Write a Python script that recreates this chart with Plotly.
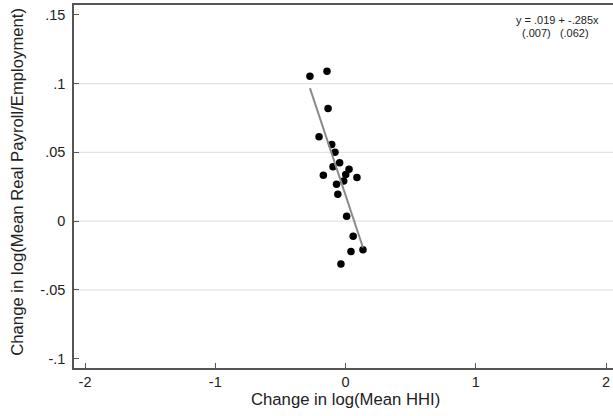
import plotly.graph_objects as go

# Data
x_vals = [-0.273, -0.142, -0.134, -0.203, -0.106, -0.081, -0.045, -0.096, 0.027, 0.002,
          -0.170, 0.088, -0.014, -0.069, -0.059, 0.009, 0.059, 0.042, 0.134, -0.035]
y_vals = [0.1054, 0.1090, 0.0819, 0.0613, 0.0557, 0.0501, 0.0424, 0.0395, 0.0378, 0.0339,
          0.0334, 0.0318, 0.0291, 0.0269, 0.0196, 0.0036, -0.0110, -0.0222, -0.0209, -0.0313]

intercept = 0.019
slope = -0.285
eq_line1 = "y = .019 + -.285x"
eq_line2 = "(.007)   (.062)"

x_ticks = [-2, -1, 0, 1, 2]
x_tick_text = ["-2", "-1", "0", "1", "2"]
y_ticks = [-0.1, -0.05, 0, 0.05, 0.1, 0.15]
y_tick_text = ["-.1", "-.05", "0", ".05", ".1", ".15"]
y_grid = [-0.05, 0, 0.05, 0.1]

x_title = "Change in log(Mean HHI)"
y_title = "Change in log(Mean Real Payroll/Employment)"

FONT = "Liberation Sans, Arial, Helvetica, sans-serif"

fit_x = [min(x_vals), max(x_vals)]
fit_y = [intercept + slope * v for v in fit_x]

fig = go.Figure()
fig.add_trace(go.Scatter(
    x=x_vals, y=y_vals, mode="markers",
    marker=dict(color="black", size=7.5),
    showlegend=False, hoverinfo="skip"))
fig.add_trace(go.Scatter(
    x=fit_x, y=fit_y, mode="lines",
    line=dict(color="#8a8a8a", width=2),
    showlegend=False, hoverinfo="skip"))

shapes = []
for g in y_grid:
    shapes.append(dict(type="line", xref="paper", yref="y", x0=0, x1=1, y0=g, y1=g,
                       line=dict(color="#e3e3e3", width=1.2), layer="below"))

W, H = 613, 416
ml, mr, mt, mb = 74, 0, 5, 47.5

def px_to_paper_x(px):
    return (px - ml) / (W - ml - mr)

def px_to_paper_y(py):
    return (H - mb - py) / (H - mt - mb)

annotations = [
    dict(text=x_title, xref="x", yref="paper", x=0, y=px_to_paper_y(400),
         showarrow=False, xanchor="center", yanchor="middle",
         font=dict(family=FONT, size=16.7, color="#222")),
    dict(text=y_title, xref="paper", yref="paper", x=px_to_paper_x(18), y=px_to_paper_y(182),
         showarrow=False, xanchor="center", yanchor="middle", textangle=-90,
         font=dict(family=FONT, size=16.7, color="#222")),
    dict(text=eq_line1, xref="paper", yref="paper", x=px_to_paper_x(601), y=px_to_paper_y(20),
         showarrow=False, xanchor="right", yanchor="middle",
         font=dict(family=FONT, size=11, color="#222")),
    dict(text=eq_line2, xref="paper", yref="paper", x=px_to_paper_x(591), y=px_to_paper_y(33),
         showarrow=False, xanchor="right", yanchor="middle",
         font=dict(family=FONT, size=11, color="#222")),
]

x_min = -2 - 11 / 130.25
x_max = 2 + 7 / 130.25
y_min = -0.1 - 9.5 / 1376
y_max = 0.15 + 10 / 1376

fig.update_layout(
    width=W, height=H,
    margin=dict(l=ml, r=mr, t=mt, b=mb, pad=0),
    paper_bgcolor="white", plot_bgcolor="white",
    font=dict(family=FONT, size=14.5, color="#222"),
    shapes=shapes, annotations=annotations,
    xaxis=dict(range=[x_min, x_max], tickvals=x_ticks, ticktext=x_tick_text,
               showgrid=False, zeroline=False, showline=True, linecolor="#555",
               linewidth=1.5, mirror=True, ticks="inside", ticklen=5, tickcolor="#555",
               tickfont=dict(family=FONT, size=14.5, color="#222")),
    yaxis=dict(range=[y_min, y_max], tickvals=y_ticks, ticktext=y_tick_text,
               showgrid=False, zeroline=False, showline=True, linecolor="#555",
               linewidth=1.5, ticks="inside", ticklen=5, tickcolor="#555",
               ticklabelstandoff=4,
               tickfont=dict(family=FONT, size=14.5, color="#222")),
)

fig.write_html("out.html",
               config={"displayModeBar": False},
               post_script="document.body.style.margin='0';document.body.style.overflow='hidden';")
